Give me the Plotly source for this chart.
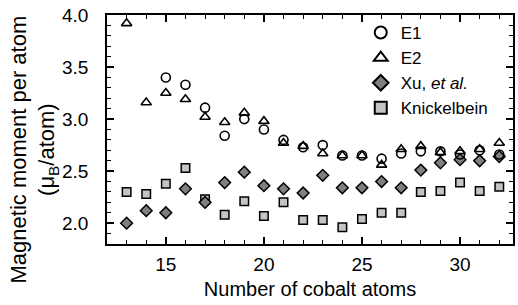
import plotly.graph_objects as go

# ---- data ----
n_all = list(range(13, 33))
n_e1 = list(range(15, 33))
e1 = [3.40, 3.33, 3.11, 2.84, 3.00, 2.90, 2.80, 2.73, 2.75, 2.65, 2.65, 2.62,
      2.67, 2.69, 2.69, 2.66, 2.70, 2.66]
e2 = [3.92, 3.16, 3.25, 3.19, 3.02, 2.97, 3.06, 2.98, 2.77, 2.74, 2.67, 2.65,
      2.65, 2.56, 2.71, 2.74, 2.68, 2.69, 2.71, 2.77]
xu = [2.00, 2.12, 2.10, 2.33, 2.20, 2.39, 2.49, 2.36, 2.33, 2.29, 2.46, 2.34,
      2.34, 2.40, 2.34, 2.51, 2.58, 2.61, 2.60, 2.64]
knick = [2.30, 2.28, 2.38, 2.53, 2.23, 2.08, 2.21, 2.07, 2.20, 2.03, 2.03, 1.96,
         2.04, 2.10, 2.10, 2.30, 2.31, 2.39, 2.31, 2.35]

names = ["E1", "E2", "Xu, <i>et al.</i>", "Knickelbein"]
x_title = "Number of cobalt atoms"
y_title = "Magnetic moment per atom<br>(μ<sub>B</sub>/atom)"

FONT = "Liberation Sans, Arial, Helvetica, sans-serif"
XR = [12, 32.7]
YR = [1.8, 4.0]

fig = go.Figure()
fig.add_trace(go.Scatter(x=n_all, y=knick, mode="markers", name=names[3], legendrank=4,
                         marker=dict(symbol="square", size=8.5, color="#c4c4c4",
                                     line=dict(color="black", width=1.5))))
fig.add_trace(go.Scatter(x=n_all, y=xu, mode="markers", name=names[2], legendrank=3,
                         marker=dict(symbol="diamond", size=9, color="#7f7f7f",
                                     line=dict(color="black", width=1.5))))
fig.add_trace(go.Scatter(x=n_all, y=e2, mode="markers", name=names[1], legendrank=2,
                         marker=dict(symbol="triangle-up-open", size=9, color="black",
                                     line=dict(color="black", width=1.6))))
fig.add_trace(go.Scatter(x=n_e1, y=e1, mode="markers", name=names[0], legendrank=1,
                         marker=dict(symbol="circle-open", size=9, color="black",
                                     line=dict(color="black", width=1.6))))

fig.update_layout(
    width=518, height=305,
    margin=dict(l=107, r=5, t=15, b=61),
    paper_bgcolor="white", plot_bgcolor="white",
    font=dict(family=FONT, color="black", size=19),
    showlegend=True,
    legend=dict(x=0.625, y=1.0, xanchor="left", yanchor="top",
                bgcolor="rgba(0,0,0,0)", font=dict(size=17, family=FONT),
                tracegroupgap=0, itemsizing="constant"),
    xaxis=dict(range=XR, tick0=0, dtick=5, ticks="inside", ticklen=7, tickwidth=1.5,
               tickcolor="black", showline=True, linewidth=1.5, linecolor="black",
               mirror="allticks", showgrid=False, zeroline=False, automargin=False,
               minor=dict(ticks="inside", dtick=1, ticklen=4, tickwidth=1.2,
                          tickcolor="black", showgrid=False),
               tickfont=dict(size=19), ticklabelstandoff=2,
               title=dict(text=x_title, font=dict(size=20), standoff=8)),
    yaxis=dict(range=YR, tick0=0, dtick=0.5, tickformat=".1f", ticks="inside",
               ticklen=7, tickwidth=1.5, tickcolor="black", showline=True,
               linewidth=1.5, linecolor="black", mirror="allticks", automargin=False,
               showgrid=False, zeroline=False,
               minor=dict(ticks="inside", dtick=0.1, ticklen=4, tickwidth=1.2,
                          tickcolor="black", showgrid=False),
               tickfont=dict(size=19), ticklabelstandoff=13),
    annotations=[dict(text=y_title, textangle=-90, xref="paper", yref="paper",
                      x=(33.5 - 107) / 406, y=(244 - 150) / 229,
                      xanchor="center", yanchor="middle", showarrow=False,
                      font=dict(size=22, family=FONT, color="black"))],
)

fig.write_html("out.html", config={"displayModeBar": False},
               post_script="document.body.style.margin='0';document.body.style.overflow='hidden';")
